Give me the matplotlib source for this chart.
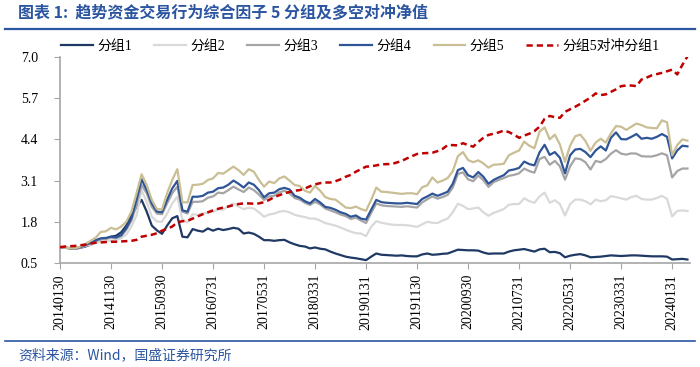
import numpy as np
import matplotlib
matplotlib.use('Agg')
import matplotlib.pyplot as plt
from matplotlib.lines import Line2D

# monthly net values, Jan 2014 - Apr 2024
group1 = [1.00, 0.98, 0.96, 0.95, 0.98, 1.02, 1.08, 1.17, 1.25, 1.27, 1.33, 1.36, 1.47, 1.68, 2.00, 2.28,
          2.49, 2.12, 1.68, 1.53, 1.42, 1.68, 1.91, 1.98, 1.33, 1.31, 1.57, 1.52, 1.49, 1.59, 1.52, 1.58,
          1.54, 1.57, 1.61, 1.58, 1.43, 1.46, 1.42, 1.33, 1.22, 1.22, 1.20, 1.22, 1.23, 1.15, 1.09, 1.04,
          1.02, 0.96, 0.99, 0.95, 0.93, 0.86, 0.80, 0.75, 0.70, 0.67, 0.65, 0.62, 0.59, 0.70, 0.80, 0.76,
          0.75, 0.74, 0.73, 0.74, 0.72, 0.71, 0.71, 0.77, 0.80, 0.76, 0.77, 0.79, 0.80, 0.86, 0.92, 0.91,
          0.90, 0.90, 0.89, 0.83, 0.79, 0.80, 0.80, 0.80, 0.86, 0.90, 0.92, 0.94, 0.90, 0.86, 0.93, 0.95,
          0.84, 0.85, 0.81, 0.68, 0.73, 0.76, 0.78, 0.74, 0.68, 0.69, 0.70, 0.72, 0.74, 0.73, 0.72, 0.73,
          0.74, 0.74, 0.73, 0.72, 0.71, 0.71, 0.71, 0.70, 0.61, 0.62, 0.63, 0.61]

group2 = [1.00, 0.98, 0.97, 0.96, 0.99, 1.04, 1.08, 1.13, 1.18, 1.19, 1.21, 1.22, 1.28, 1.40, 1.65, 2.00,
          2.80, 2.43, 1.96, 1.81, 1.80, 2.06, 2.38, 2.59, 1.86, 1.78, 2.04, 2.02, 2.06, 2.09, 2.11, 2.20,
          2.18, 2.30, 2.38, 2.28, 2.20, 2.24, 2.22, 2.10, 1.96, 2.03, 2.06, 2.12, 2.14, 2.10, 2.02, 1.98,
          1.95, 1.90, 1.90, 1.84, 1.76, 1.72, 1.68, 1.62, 1.55, 1.49, 1.44, 1.43, 1.35, 1.64, 1.82, 1.77,
          1.74, 1.71, 1.70, 1.70, 1.69, 1.67, 1.64, 1.72, 1.80, 1.77, 1.76, 1.84, 1.90, 2.10, 2.37, 2.30,
          2.20, 2.22, 2.25, 2.10, 1.99, 2.08, 2.14, 2.20, 2.34, 2.36, 2.36, 2.54, 2.45, 2.40, 2.60, 2.72,
          2.40, 2.48, 2.36, 2.00, 2.36, 2.50, 2.50, 2.45, 2.35, 2.50, 2.45, 2.48, 2.61, 2.58, 2.54, 2.50,
          2.58, 2.62, 2.52, 2.50, 2.50, 2.55, 2.62, 2.52, 1.97, 2.14, 2.16, 2.14]

group3 = [1.00, 0.98, 0.97, 0.96, 0.99, 1.05, 1.12, 1.19, 1.25, 1.26, 1.30, 1.28, 1.35, 1.55, 1.83, 2.33,
          2.96, 2.70, 2.27, 2.06, 2.04, 2.38, 2.70, 2.91, 2.12, 2.06, 2.43, 2.43, 2.45, 2.56, 2.60, 2.72,
          2.70, 2.80, 2.91, 2.82, 2.74, 2.88, 2.80, 2.66, 2.49, 2.60, 2.62, 2.73, 2.78, 2.70, 2.55, 2.50,
          2.40, 2.33, 2.43, 2.35, 2.22, 2.16, 2.10, 2.03, 1.98, 1.89, 1.93, 1.84, 1.76, 2.08, 2.38, 2.32,
          2.30, 2.29, 2.28, 2.27, 2.29, 2.27, 2.25, 2.41, 2.51, 2.60, 2.53, 2.58, 2.65, 2.88, 3.31, 3.36,
          3.14, 3.08, 3.26, 3.11, 2.90, 3.05, 3.12, 3.18, 3.25, 3.28, 3.33, 3.48, 3.40, 3.35, 3.78, 3.85,
          3.60, 3.72, 3.55, 3.13, 3.55, 3.80, 3.78, 3.68, 3.45, 3.72, 3.68, 3.78, 3.95, 4.06, 3.95, 3.92,
          3.96, 3.95, 3.87, 3.86, 3.86, 3.90, 3.96, 3.90, 3.20, 3.40, 3.48, 3.48]

group4 = [1.00, 0.98, 0.97, 0.96, 1.00, 1.07, 1.14, 1.22, 1.28, 1.29, 1.33, 1.31, 1.38, 1.60, 1.91, 2.49,
          3.14, 2.80, 2.38, 2.12, 2.10, 2.49, 2.85, 3.09, 2.16, 2.12, 2.59, 2.59, 2.62, 2.72, 2.75, 2.86,
          2.88, 2.97, 3.10, 3.00, 2.88, 3.04, 2.97, 2.80, 2.57, 2.70, 2.72, 2.83, 2.87, 2.82, 2.62, 2.56,
          2.45, 2.38, 2.52, 2.41, 2.27, 2.24, 2.18, 2.10, 2.05, 1.96, 2.00, 1.90, 1.87, 2.18, 2.49, 2.42,
          2.40, 2.39, 2.38, 2.38, 2.40, 2.38, 2.36, 2.52, 2.60, 2.69, 2.62, 2.68, 2.75, 3.00, 3.43, 3.50,
          3.27, 3.20, 3.37, 3.22, 3.00, 3.12, 3.20, 3.27, 3.42, 3.45, 3.50, 3.70, 3.62, 3.58, 3.99, 4.23,
          3.91, 4.00, 3.82, 3.33, 3.90, 4.08, 4.10, 4.00, 3.84, 4.05, 4.18, 4.05, 4.45, 4.62, 4.41, 4.40,
          4.48, 4.57, 4.42, 4.45, 4.42, 4.48, 4.57, 4.48, 3.80, 4.05, 4.20, 4.18]

group5 = [1.00, 0.98, 0.97, 0.96, 1.02, 1.10, 1.20, 1.30, 1.48, 1.50, 1.61, 1.56, 1.65, 1.80, 2.12, 2.70,
          3.30, 2.96, 2.49, 2.20, 2.19, 2.70, 3.12, 3.46, 2.42, 2.41, 2.96, 2.97, 3.00, 3.12, 3.17, 3.34,
          3.32, 3.43, 3.54, 3.43, 3.28, 3.46, 3.38, 3.12, 2.91, 3.07, 3.02, 3.17, 3.23, 3.10, 2.96, 2.93,
          2.78, 2.72, 2.93, 2.78, 2.58, 2.52, 2.50, 2.38, 2.25, 2.23, 2.28, 2.20, 2.15, 2.49, 2.88, 2.75,
          2.74, 2.72, 2.70, 2.68, 2.70, 2.70, 2.67, 2.89, 2.95, 3.20, 3.04, 3.10, 3.18, 3.40, 3.87, 4.00,
          3.75, 3.68, 3.74, 3.64, 3.51, 3.60, 3.61, 3.63, 3.90, 3.98, 4.05, 4.33, 4.20, 4.12, 4.64, 4.78,
          4.40, 4.55, 4.24, 3.69, 4.20, 4.50, 4.55, 4.35, 4.04, 4.30, 4.42, 4.30, 4.59, 4.82, 4.80, 4.70,
          4.80, 4.90, 4.85, 4.78, 4.76, 4.75, 5.00, 4.94, 3.90, 4.22, 4.40, 4.36]

long_short = [1.00, 1.02, 1.03, 1.04, 1.06, 1.08, 1.11, 1.14, 1.15, 1.16, 1.17, 1.17, 1.18, 1.19, 1.20, 1.23,
              1.33, 1.36, 1.39, 1.44, 1.52, 1.58, 1.65, 1.78, 1.82, 1.83, 1.90, 1.97, 2.04, 2.10, 2.16, 2.21,
              2.25, 2.28, 2.33, 2.36, 2.38, 2.38, 2.37, 2.38, 2.42, 2.49, 2.58, 2.64, 2.70, 2.74, 2.78, 2.80,
              2.85, 2.92, 2.98, 3.02, 3.04, 3.04, 3.08, 3.14, 3.22, 3.28, 3.38, 3.46, 3.54, 3.55, 3.58, 3.61,
              3.62, 3.62, 3.67, 3.72, 3.80, 3.87, 3.94, 3.96, 3.97, 3.98, 4.03, 4.10, 4.22, 4.22, 4.21, 4.28,
              4.22, 4.17, 4.32, 4.45, 4.54, 4.58, 4.62, 4.68, 4.63, 4.55, 4.45, 4.52, 4.58, 4.66, 4.80, 5.05,
              5.14, 5.10, 5.08, 5.27, 5.35, 5.43, 5.52, 5.62, 5.72, 5.85, 5.80, 5.82, 5.90, 5.98, 6.08, 6.10,
              6.10, 6.08, 6.29, 6.35, 6.42, 6.46, 6.50, 6.55, 6.60, 6.45, 6.75, 7.02]

tick_labels = ['20140130', '20141130', '20150930', '20160731', '20170531', '20180331', '20190131',
               '20191130', '20200930', '20210731', '20220531', '20230331', '20240131']
y_ticks = [0.5, 1.8, 3.1, 4.4, 5.7, 7.0]

series = [('分组1', group1, '#1F3864', '-'),
          ('分组2', group2, '#D9D9D9', '-'),
          ('分组3', group3, '#A5A5A5', '-'),
          ('分组4', group4, '#2F5597', '-'),
          ('分组5', group5, '#C9BE94', '-'),
          ('分组5对冲分组1', long_short, '#C00000', '--')]

blue = '#2B55A0'
serif_cjk = ['Liberation Serif', 'Noto Sans CJK SC']

fig = plt.figure(figsize=(7, 3.67), dpi=100)
ax = fig.add_axes([0.0857, 0.2834, 0.90, 0.5613])

x = np.arange(len(group1))
handles = []
for name, vals, color, style in series:
    if style == '--':
        ln, = ax.plot(x, vals, color=color, lw=1.8, ls=(0, (2.5, 1.6)), label=name, zorder=5)
    else:
        ln, = ax.plot(x, vals, color=color, lw=1.6, ls=style, label=name)
    handles.append(ln)

ax.set_xlim(0, 123.5)
ax.set_ylim(0.5, 7.0)
ax.set_yticks(y_ticks)
ax.set_yticklabels(['%.1f' % v for v in y_ticks], family=serif_cjk, fontsize=10)
ax.set_xticks(np.arange(0, len(tick_labels) * 10, 10))
ax.set_xticklabels(tick_labels, rotation=90, family=serif_cjk, fontsize=10)

for side in ['top', 'right']:
    ax.spines[side].set_visible(False)
for side in ['left', 'bottom']:
    ax.spines[side].set_color('#A6A6A6')
    ax.spines[side].set_linewidth(1.2)
ax.tick_params(axis='y', direction='out', length=4, color='#A6A6A6', pad=12)
ax.tick_params(axis='x', direction='out', length=4, color='#A6A6A6', pad=4)

# legend above the plot
fig.legend(handles=handles, loc='center', bbox_to_anchor=(0.515, 1 - 46 / 367), ncol=6,
           frameon=False, prop={'family': serif_cjk, 'size': 10}, handlelength=2.3,
           handletextpad=0.3, columnspacing=1.6)

# title, rules and source
fig.text(18 / 700, 1 - 13 / 367, '图表 1:  趋势资金交易行为综合因子 5 分组及多空对冲净值',
         family=['Noto Sans CJK SC'], fontsize=11.5, fontweight='bold', fontstyle='italic',
         color=blue, va='center', ha='left')
fig.add_artist(Line2D([5 / 700, 695 / 700], [1 - 29 / 367, 1 - 29 / 367], color=blue, lw=1.6))
fig.add_artist(Line2D([5 / 700, 695 / 700], [1 - 341 / 367, 1 - 341 / 367], color=blue, lw=1.2))
fig.text(18 / 700, 1 - 355 / 367, '资料来源：Wind，国盛证券研究所', family=['Noto Sans CJK SC'],
         fontsize=10, fontstyle='italic', color=blue, va='center', ha='left')

fig.savefig('out.png', dpi=100)
